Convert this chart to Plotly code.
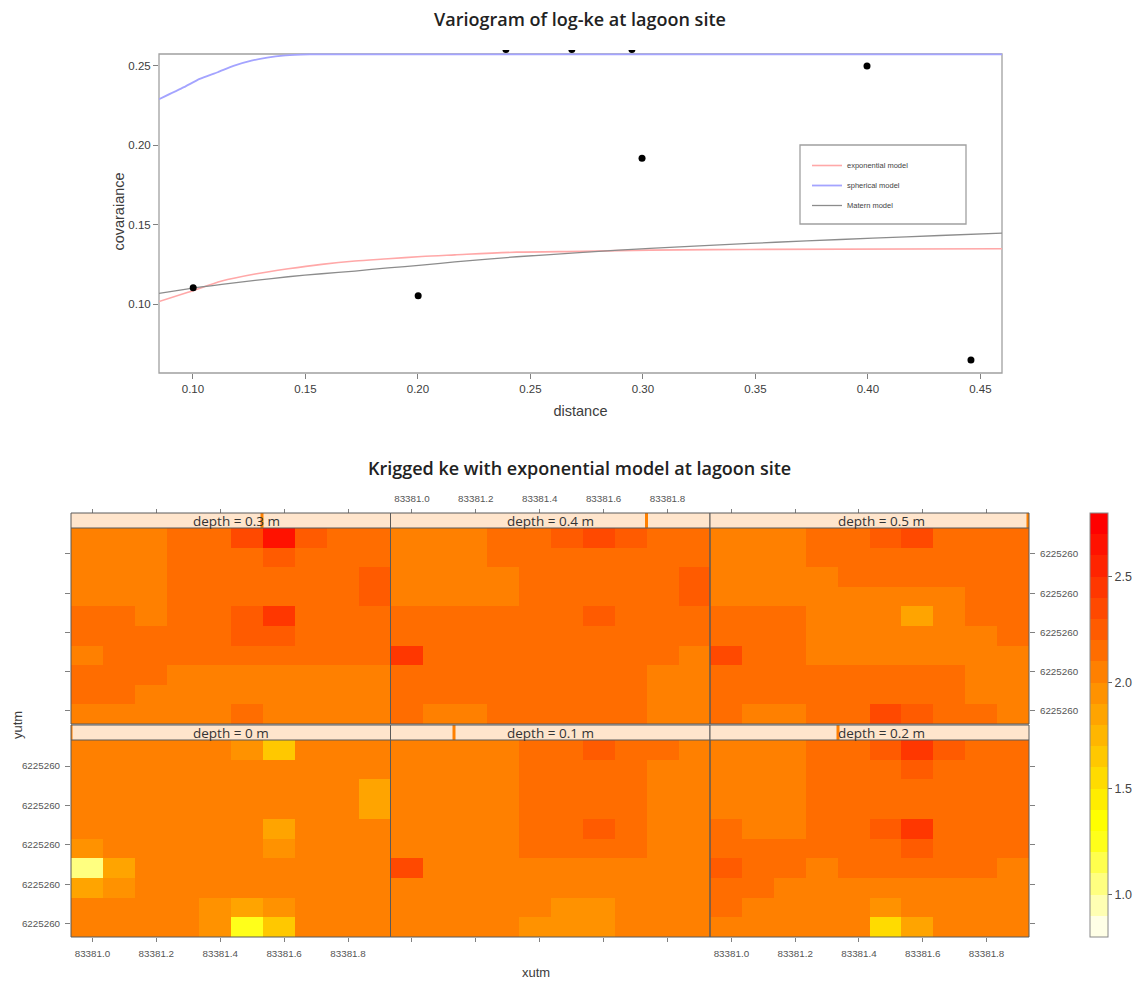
import plotly.graph_objects as go

# ---------- variogram data ----------
LAG = [0.1001, 0.2001, 0.2996, 0.3996, 0.4458]
SEMIVAR = [0.1103, 0.1052, 0.1919, 0.2500, 0.0648]
LAG_TOP = [0.2391, 0.2684, 0.2951]
SEMIVAR_TOP = [0.2603, 0.2603, 0.2603]

EXP_X = [0.0849, 0.0978, 0.1128, 0.1276, 0.1423, 0.1572, 0.1720, 0.1867, 0.2016, 0.2164,
         0.2439, 0.2733, 0.3031, 0.3476, 0.4596]
EXP_Y = [0.1016, 0.1074, 0.1145, 0.1189, 0.1222, 0.1250, 0.1271, 0.1285, 0.1300, 0.1310,
         0.1327, 0.1332, 0.1340, 0.1344, 0.1348]
SPH_X = [0.0849, 0.0960, 0.1030, 0.1110, 0.1180, 0.1260, 0.1330, 0.1400, 0.1480, 0.1550, 0.4596]
SPH_Y = [0.2290, 0.2366, 0.2418, 0.2460, 0.2500, 0.2533, 0.2552, 0.2565, 0.2571, 0.2573, 0.2573]
MAT_X = [0.0849, 0.0978, 0.1128, 0.1276, 0.1423, 0.1572, 0.1720, 0.1867, 0.2016, 0.2164,
         0.2439, 0.2733, 0.3031, 0.3476, 0.3727, 0.4022, 0.4320, 0.4596]
MAT_Y = [0.1067, 0.1096, 0.1124, 0.1149, 0.1172, 0.1191, 0.1208, 0.1228, 0.1245, 0.1266,
         0.1298, 0.1325, 0.1351, 0.1382, 0.1398, 0.1415, 0.1432, 0.1447]

# ---------- kriging data (rows top to bottom, columns left to right) ----------
XUTM = [83380.983, 83381.083, 83381.183, 83381.283, 83381.383,
        83381.483, 83381.583, 83381.683, 83381.783, 83381.883]
YUTM = [6225260.682, 6225260.582, 6225260.482, 6225260.382, 6225260.282,
        6225260.182, 6225260.082, 6225259.982, 6225259.882, 6225259.782]
XTICKS = [83381.0, 83381.2, 83381.4, 83381.6, 83381.8]
XTICKTEXT = ["83381.0", "83381.2", "83381.4", "83381.6", "83381.8"]
YTICKS = [6225259.8, 6225260.0, 6225260.2, 6225260.4, 6225260.6]
YTICKTEXT = ["6225260"] * 5

KE_03 = [
    [2.05, 2.05, 2.05, 2.15, 2.15, 2.35, 2.65, 2.25, 2.15, 2.15],
    [2.05, 2.05, 2.05, 2.15, 2.15, 2.15, 2.25, 2.15, 2.15, 2.15],
    [2.05, 2.05, 2.05, 2.15, 2.15, 2.15, 2.15, 2.15, 2.15, 2.25],
    [2.05, 2.05, 2.05, 2.15, 2.15, 2.15, 2.15, 2.15, 2.15, 2.25],
    [2.15, 2.15, 2.05, 2.15, 2.15, 2.25, 2.45, 2.15, 2.15, 2.15],
    [2.15, 2.15, 2.15, 2.15, 2.15, 2.25, 2.25, 2.15, 2.15, 2.15],
    [2.05, 2.15, 2.15, 2.15, 2.15, 2.15, 2.15, 2.15, 2.15, 2.15],
    [2.15, 2.15, 2.15, 2.05, 2.05, 2.05, 2.05, 2.05, 2.05, 2.05],
    [2.15, 2.15, 2.05, 2.05, 2.05, 2.05, 2.05, 2.05, 2.05, 2.05],
    [2.05, 2.05, 2.05, 2.05, 2.05, 2.15, 2.05, 2.05, 2.05, 2.05],
]
KE_04 = [
    [2.05, 2.05, 2.05, 2.15, 2.15, 2.25, 2.35, 2.25, 2.15, 2.15],
    [2.05, 2.05, 2.05, 2.15, 2.15, 2.15, 2.15, 2.15, 2.15, 2.15],
    [2.05, 2.05, 2.05, 2.05, 2.15, 2.15, 2.15, 2.15, 2.15, 2.25],
    [2.05, 2.05, 2.05, 2.05, 2.15, 2.15, 2.15, 2.15, 2.15, 2.25],
    [2.15, 2.15, 2.15, 2.15, 2.15, 2.15, 2.25, 2.15, 2.15, 2.15],
    [2.15, 2.15, 2.15, 2.15, 2.15, 2.15, 2.15, 2.15, 2.15, 2.15],
    [2.45, 2.15, 2.15, 2.15, 2.15, 2.15, 2.15, 2.15, 2.15, 2.05],
    [2.15, 2.15, 2.15, 2.15, 2.15, 2.15, 2.15, 2.15, 2.05, 2.05],
    [2.15, 2.15, 2.15, 2.15, 2.15, 2.15, 2.15, 2.15, 2.05, 2.05],
    [2.15, 2.05, 2.05, 2.15, 2.15, 2.15, 2.15, 2.15, 2.05, 2.05],
]
KE_05 = [
    [2.05, 2.05, 2.05, 2.15, 2.15, 2.25, 2.35, 2.15, 2.15, 2.15],
    [2.05, 2.05, 2.05, 2.15, 2.15, 2.15, 2.15, 2.15, 2.15, 2.15],
    [2.05, 2.05, 2.05, 2.05, 2.15, 2.15, 2.15, 2.15, 2.15, 2.15],
    [2.05, 2.05, 2.05, 2.05, 2.05, 2.05, 2.05, 2.05, 2.15, 2.15],
    [2.15, 2.15, 2.15, 2.05, 2.05, 2.05, 1.85, 2.05, 2.15, 2.15],
    [2.15, 2.15, 2.15, 2.05, 2.05, 2.05, 2.05, 2.05, 2.05, 2.15],
    [2.35, 2.15, 2.15, 2.05, 2.05, 2.05, 2.05, 2.05, 2.05, 2.05],
    [2.15, 2.15, 2.15, 2.15, 2.15, 2.15, 2.15, 2.15, 2.05, 2.05],
    [2.15, 2.15, 2.15, 2.15, 2.15, 2.15, 2.15, 2.15, 2.05, 2.05],
    [2.15, 2.05, 2.05, 2.15, 2.15, 2.35, 2.25, 2.15, 2.15, 2.05],
]
KE_00 = [
    [2.05, 2.05, 2.05, 2.05, 2.05, 1.95, 1.65, 2.05, 2.05, 2.05],
    [2.05, 2.05, 2.05, 2.05, 2.05, 2.05, 2.05, 2.05, 2.05, 2.05],
    [2.05, 2.05, 2.05, 2.05, 2.05, 2.05, 2.05, 2.05, 2.05, 1.85],
    [2.05, 2.05, 2.05, 2.05, 2.05, 2.05, 2.05, 2.05, 2.05, 1.85],
    [2.05, 2.05, 2.05, 2.05, 2.05, 2.05, 1.85, 2.05, 2.05, 2.05],
    [1.95, 2.05, 2.05, 2.05, 2.05, 2.05, 1.95, 2.05, 2.05, 2.05],
    [1.05, 1.85, 2.05, 2.05, 2.05, 2.05, 2.05, 2.05, 2.05, 2.05],
    [1.85, 1.95, 2.05, 2.05, 2.05, 2.05, 2.05, 2.05, 2.05, 2.05],
    [2.05, 2.05, 2.05, 2.05, 1.95, 1.85, 1.95, 2.05, 2.05, 2.05],
    [2.05, 2.05, 2.05, 2.05, 1.95, 1.25, 1.65, 2.05, 2.05, 2.05],
]
KE_01 = [
    [2.05, 2.05, 2.05, 2.05, 2.15, 2.15, 2.25, 2.15, 2.15, 2.05],
    [2.05, 2.05, 2.05, 2.05, 2.15, 2.15, 2.15, 2.15, 2.05, 2.05],
    [2.05, 2.05, 2.05, 2.05, 2.15, 2.15, 2.15, 2.15, 2.05, 2.05],
    [2.05, 2.05, 2.05, 2.05, 2.15, 2.15, 2.15, 2.15, 2.05, 2.05],
    [2.05, 2.05, 2.05, 2.05, 2.15, 2.15, 2.25, 2.15, 2.05, 2.05],
    [2.05, 2.05, 2.05, 2.05, 2.15, 2.15, 2.15, 2.15, 2.05, 2.05],
    [2.35, 2.05, 2.05, 2.05, 2.05, 2.05, 2.05, 2.05, 2.05, 2.05],
    [2.05, 2.05, 2.05, 2.05, 2.05, 2.05, 2.05, 2.05, 2.05, 2.05],
    [2.05, 2.05, 2.05, 2.05, 2.05, 1.95, 1.95, 2.05, 2.05, 2.05],
    [2.05, 2.05, 2.05, 2.05, 1.95, 1.95, 1.95, 2.05, 2.05, 2.05],
]
KE_02 = [
    [2.05, 2.05, 2.05, 2.15, 2.15, 2.25, 2.45, 2.25, 2.15, 2.15],
    [2.05, 2.05, 2.05, 2.15, 2.15, 2.15, 2.25, 2.15, 2.15, 2.15],
    [2.05, 2.05, 2.05, 2.15, 2.15, 2.15, 2.15, 2.15, 2.15, 2.15],
    [2.05, 2.05, 2.05, 2.15, 2.15, 2.15, 2.15, 2.15, 2.15, 2.15],
    [2.15, 2.05, 2.05, 2.15, 2.15, 2.25, 2.45, 2.15, 2.15, 2.15],
    [2.15, 2.15, 2.15, 2.15, 2.15, 2.15, 2.25, 2.15, 2.15, 2.15],
    [2.25, 2.15, 2.15, 2.05, 2.15, 2.15, 2.15, 2.15, 2.15, 2.05],
    [2.15, 2.15, 2.05, 2.05, 2.05, 2.05, 2.05, 2.05, 2.05, 2.05],
    [2.15, 2.05, 2.05, 2.05, 2.05, 1.95, 2.05, 2.05, 2.05, 2.05],
    [2.05, 2.05, 2.05, 2.05, 2.05, 1.55, 1.85, 2.05, 2.05, 2.05],
]

BAND_COLORS = ["#FFFFE6", "#FFFFB3", "#FFFF80", "#FFFF4D", "#FFFF1A",
               "#FFFF00", "#FFED00", "#FFDB00", "#FFC800", "#FFB600",
               "#FFA400", "#FF9200", "#FF8000", "#FF6D00", "#FF5B00",
               "#FF4900", "#FF3700", "#FF2400", "#FF1200", "#FF0000"]
CB_TICKS = [1.0, 1.5, 2.0, 2.5]

# ---------- geometry helpers ----------
W, H = 1138, 981
px = lambda v: v / W
py = lambda v: 1 - v / H

SANS = "Liberation Sans"
TITLE_FONT = "Open Sans"
TXT = "#3c3c3c"
TICK = "#808080"
FRAME = "#5a5a5a"

fig = go.Figure()

# ---------- top chart ----------
fig.add_trace(go.Scatter(x=EXP_X, y=EXP_Y, mode="lines", name="exponential model", legendgroup="a",
                         line=dict(color="#ffa8a8", width=1.6, shape="spline", smoothing=0.8)))
fig.add_trace(go.Scatter(x=SPH_X, y=SPH_Y, mode="lines", name="spherical model", legendgroup="b",
                         line=dict(color="#a4a4ff", width=1.8, shape="spline", smoothing=0.5)))
fig.add_trace(go.Scatter(x=MAT_X, y=MAT_Y, mode="lines", name="Matern model", legendgroup="c",
                         line=dict(color="#8c8c8c", width=1.3, shape="spline", smoothing=0.8)))
fig.add_trace(go.Scatter(x=LAG + LAG_TOP, y=SEMIVAR + SEMIVAR_TOP, mode="markers", showlegend=False,
                         marker=dict(color="black", size=7)))

x_top = dict(domain=[px(159), px(1002)], range=[0.0849, 0.4596], anchor="y",
             tickvals=[0.10, 0.15, 0.20, 0.25, 0.30, 0.35, 0.40, 0.45], tickformat=".2f",
             ticks="outside", ticklen=5, tickcolor=TICK, showgrid=False, zeroline=False, showline=False,
             tickfont=dict(family=SANS, size=11.5, color=TXT),
             title=dict(text="distance", standoff=12, font=dict(family=SANS, size=14.5, color=TXT)))
y_top = dict(domain=[py(373), py(50)], range=[0.0566, 0.26], anchor="x",
             tickvals=[0.10, 0.15, 0.20, 0.25], tickformat=".2f",
             ticks="outside", ticklen=5, tickcolor=TICK, showgrid=False, zeroline=False, showline=False,
             tickfont=dict(family=SANS, size=11.5, color=TXT),
             title=dict(text="covaraiance", standoff=0, font=dict(family=SANS, size=14.5, color=TXT)))

shapes = [dict(type="rect", xref="paper", yref="paper", x0=px(159), x1=px(1002), y0=py(373), y1=py(54),
               line=dict(color="#a0a0a0", width=1.3), layer="below"),
          dict(type="rect", xref="paper", yref="paper", x0=px(800), x1=px(966), y0=py(224), y1=py(145),
               line=dict(color="#a0a0a0", width=1.3))]

# ---------- panels ----------
X_EDGES = [(71, 390.5), (390.5, 710), (710, 1029)]
ROWS = {"top": (513, 528, 724), "bottom": (725, 740, 937)}
PANELS = [
    (KE_03, "depth = 0.3 m", 0, "top", 262, 236.5),
    (KE_04, "depth = 0.4 m", 1, "top", 646.5, 550),
    (KE_05, "depth = 0.5 m", 2, "top", 1028, 881),
    (KE_00, "depth = 0 m", 0, "bottom", 71, 231),
    (KE_01, "depth = 0.1 m", 1, "bottom", 454, 550),
    (KE_02, "depth = 0.2 m", 2, "bottom", 838, 881),
]
annotations = []
axes = {"xaxis": x_top, "yaxis": y_top}
tickfont = dict(family=SANS, size=9.8, color="#555555")

for i, (z, label, col, row, bar, label_x) in enumerate(PANELS):
    n = i + 2
    x0, x1 = X_EDGES[col]
    stop, ptop, pbot = ROWS[row]
    fig.add_trace(go.Heatmap(x=XUTM, y=YUTM, z=z, coloraxis="coloraxis", xaxis=f"x{n}", yaxis=f"y{n}",
                             name=label, hovertemplate="xutm %{x}<br>yutm %{y}<br>ke %{z}<extra>" + label + "</extra>"))
    xa = dict(domain=[px(x0), px(x1)], range=[83380.933, 83381.933], tickvals=XTICKS, ticktext=XTICKTEXT,
              ticks="outside", ticklen=4, tickcolor=TICK, showgrid=False, zeroline=False, showline=False,
              tickfont=tickfont, ticklabelstandoff=3)
    if row == "top":
        xa.update(anchor="free", position=py(stop), side="top", showticklabels=(col == 1))
    else:
        xa.update(anchor=f"y{n}", side="bottom", showticklabels=(col != 1))
    ya = dict(domain=[py(pbot), py(ptop)], range=[6225259.732, 6225260.732], tickvals=YTICKS, ticktext=YTICKTEXT,
              showgrid=False, zeroline=False, showline=False, tickfont=tickfont, anchor=f"x{n}",
              tickcolor=TICK, ticklen=5, ticklabelstandoff=3)
    if col == 0:
        ya.update(side="left", ticks="outside", showticklabels=(row == "bottom"))
    elif col == 2:
        ya.update(side="right", ticks="outside", showticklabels=(row == "top"))
    else:
        ya.update(ticks="", showticklabels=False)
    axes[f"xaxis{n}"] = xa
    axes[f"yaxis{n}"] = ya

    # strip background, level marker and frame
    shapes.append(dict(type="rect", xref="paper", yref="paper", x0=px(x0), x1=px(x1), y0=py(ptop), y1=py(stop),
                       fillcolor="#FFE5CC", line=dict(width=0)))
    shapes.append(dict(type="rect", xref="paper", yref="paper", x0=px(max(x0, bar - 1.5)), x1=px(min(x1, bar + 1.5)),
                       y0=py(ptop), y1=py(stop), fillcolor="#FF8000", line=dict(width=0)))
    shapes.append(dict(type="line", xref="paper", yref="paper", x0=px(x0), x1=px(x1), y0=py(ptop), y1=py(ptop),
                       line=dict(color=FRAME, width=1)))
    shapes.append(dict(type="rect", xref="paper", yref="paper", x0=px(x0), x1=px(x1), y0=py(pbot), y1=py(stop),
                       line=dict(color=FRAME, width=1)))
    annotations.append(dict(text=label, xref="paper", yref="paper", x=px(label_x), y=py((stop + ptop) / 2),
                            showarrow=False, xanchor="center", yanchor="middle",
                            font=dict(family=TITLE_FONT, size=13.5, color="#333333")))

annotations += [
    dict(text="Krigged ke with exponential model at lagoon site", xref="paper", yref="paper",
         x=px(579), y=py(468), showarrow=False, xanchor="center", yanchor="middle",
         font=dict(family=TITLE_FONT, size=18, color="#222222", weight=600)),
    dict(text="yutm", xref="paper", yref="paper", x=px(17), y=py(725), textangle=-90, showarrow=False,
         xanchor="center", yanchor="middle", font=dict(family=SANS, size=13, color=TXT)),
    dict(text="xutm", xref="paper", yref="paper", x=px(536), y=py(972), showarrow=False,
         xanchor="center", yanchor="middle", font=dict(family=SANS, size=13, color=TXT)),
]

n_bands = len(BAND_COLORS)
colorscale = []
for k, c in enumerate(BAND_COLORS):
    colorscale += [[k / n_bands, c], [(k + 1) / n_bands, c]]

fig.update_layout(
    width=W, height=H, autosize=False,
    margin=dict(l=0, r=0, t=0, b=0, pad=0),
    paper_bgcolor="white", plot_bgcolor="white",
    title=dict(text="Variogram of log-ke at lagoon site", xref="paper", yref="paper", x=px(580), y=py(20),
               xanchor="center", yanchor="middle",
               font=dict(family=TITLE_FONT, size=18, color="#222222", weight=600)),
    legend=dict(x=px(807), y=py(151), xanchor="left", yanchor="top", bgcolor="rgba(0,0,0,0)", borderwidth=0,
                font=dict(family=SANS, size=7.5, color="#444444"), tracegroupgap=1, itemwidth=30,
                entrywidth=110, entrywidthmode="pixels"),
    coloraxis=dict(cmin=0.8, cmax=2.8, colorscale=colorscale,
                   colorbar=dict(x=px(1090), xanchor="left", y=py(513), yanchor="top", lenmode="pixels", len=424,
                                 thicknessmode="pixels", thickness=18, ypad=0, xpad=0,
                                 tickvals=CB_TICKS, tickformat=".1f", ticks="outside", ticklen=4, tickcolor="#666666",
                                 outlinecolor="#8a8a8a", outlinewidth=1,
                                 tickfont=dict(family=SANS, size=12.5, color="#444444"))),
    shapes=shapes, annotations=annotations,
    **axes,
)

fig.write_html("out.html", config=dict(displayModeBar=False),
               post_script="document.body.style.margin='0';document.body.style.overflow='hidden';")
